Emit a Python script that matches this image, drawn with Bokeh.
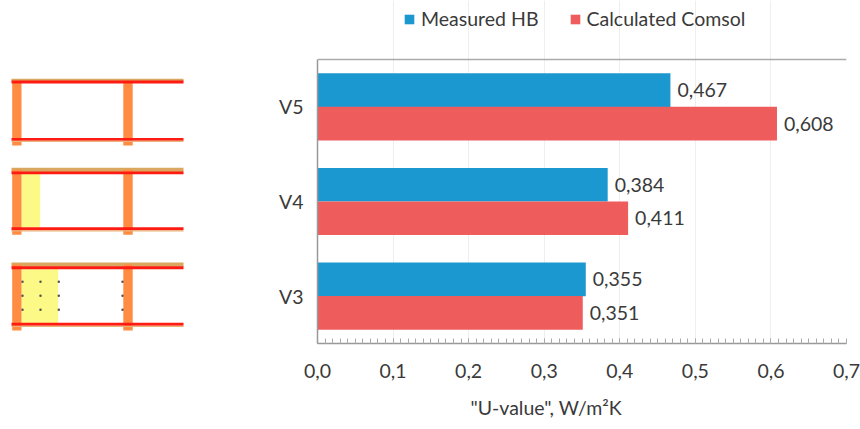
from bokeh.plotting import figure
from bokeh.layouts import row
from bokeh.models import Range1d, Legend, LegendItem, Title, ColumnDataSource, FixedTicker, Span
from bokeh.transform import dodge
from bokeh.core.properties import value
from bokeh.embed import file_html
from bokeh.resources import INLINE

categories = ["V3", "V4", "V5"]
measured_hb = [0.355, 0.384, 0.467]
calculated_comsol = [0.351, 0.411, 0.608]
measured_labels = ["0,355", "0,384", "0,467"]
calculated_labels = ["0,351", "0,411", "0,608"]
tick_values = [0.0, 0.1, 0.2, 0.3, 0.4, 0.5, 0.6, 0.7]
tick_labels = ["0,0", "0,1", "0,2", "0,3", "0,4", "0,5", "0,6", "0,7"]
series_names = ["Measured HB", "Calculated Comsol"]
x_title = '"U-value", W/m²K'

BLUE = "#1B98CF"
RED = "#EE5D5C"
FONT = "Lato"
FS = "19.5px"
TXT = "#3a3a3a"

# wall-section sketches, in page pixels
columns_x = [(11.7, 21), (122.8, 132.2)]
panels = [
    dict(tan=(78.3, 81), red_top=(80, 83), red_bot=(137.5, 140.3), col_end=145, fill=None, dots=False),
    dict(tan=(167.3, 171.7), red_top=(171, 173.7), red_bot=(226.7, 229.7), col_end=234.3, fill=(21, 39.7, 173.3, 226.7), dots=False),
    dict(tan=(262, 266.2), red_top=(265.8, 268.7), red_bot=(322.3, 325.3), col_end=330, fill=(21, 57.7, 268.7, 323), dots=True),
]
dot_x = [22, 40, 58.3, 122]
dot_y = [281.3, 295.3, 309.3]
WALL_END = 183

SK_W, H = 250, 428
PLOT_TOP, PLOT_BOTTOM = 59, 343       # page y of the axis area
CAT_PX = (PLOT_BOTTOM - PLOT_TOP) / len(categories)
BOTTOM = H - PLOT_BOTTOM

sk = figure(width=SK_W, height=H, output_backend="svg", toolbar_location=None,
            x_range=Range1d(0, SK_W), y_range=Range1d(PLOT_BOTTOM, 0),
            min_border_left=0, min_border_right=0, min_border_top=0, min_border_bottom=BOTTOM)
sk.xaxis.visible = False
sk.yaxis.visible = False
sk.grid.visible = False
sk.outline_line_color = None
for pn in panels:
    sk.quad(left=[11], right=[WALL_END], top=[pn["tan"][0]], bottom=[pn["tan"][1]], color="#D9A75F", line_color=None)
    if pn["fill"]:
        l, r, t, b = pn["fill"]
        sk.quad(left=[l], right=[r], top=[t], bottom=[b], color="#FDF986", line_color=None)
    for l, r in columns_x:
        sk.quad(left=[l], right=[r], top=[pn["tan"][0] + 2], bottom=[pn["col_end"]], color="#FF8C42", line_color=None)
    for key in ("red_top", "red_bot"):
        t, b = pn[key]
        sk.quad(left=[11], right=[WALL_END], top=[t], bottom=[b], color="#FF1A12", line_color=None)
    sk.quad(left=[11], right=[WALL_END], top=[pn["red_bot"][1]], bottom=[pn["red_bot"][1] + 1.2], color="#E9B27A", line_color=None)
    if pn["dots"]:
        xs = [x for x in dot_x for _ in dot_y]
        ys = dot_y * len(dot_x)
        sk.scatter(xs, ys, size=2.5, color="#555555", line_color=None)

ypos = [i + 0.5 for i in range(len(categories))]
src = ColumnDataSource(dict(ypos=ypos, hb=measured_hb, cc=calculated_comsol,
                            hl=measured_labels, cl=calculated_labels))
n = len(categories)
p = figure(width=610, height=H, output_backend="svg", toolbar_location=None,
           y_range=Range1d(0, n + PLOT_TOP / CAT_PX),
           x_range=Range1d(tick_values[0], tick_values[-1]),
           min_border_left=67, min_border_right=14, min_border_top=0, min_border_bottom=BOTTOM)

BAR = 0.355
r1 = p.hbar(y=dodge("ypos", 0.177), right="hb", left=0, height=BAR, source=src, color=BLUE, line_color=None)
r2 = p.hbar(y=dodge("ypos", -0.177), right="cc", left=0, height=BAR, source=src, color=RED, line_color=None)
p.text(x="hb", y=dodge("ypos", 0.177), text="hl", source=src, x_offset=7,
       text_baseline="middle", text_font=value(FONT), text_font_size=FS, text_color=TXT)
p.text(x="cc", y=dodge("ypos", -0.177), text="cl", source=src, x_offset=7,
       text_baseline="middle", text_font=value(FONT), text_font_size=FS, text_color=TXT)

xa = p.xaxis[0]
step = tick_values[1] / 10
xa.ticker = FixedTicker(ticks=tick_values, minor_ticks=[i * step for i in range(71)])
xa.major_label_overrides = dict(zip(tick_values, tick_labels))
xa.major_label_text_font = FONT
xa.major_label_text_font_size = FS
xa.major_label_text_color = TXT
xa.major_label_standoff = 20
xa.axis_line_color = "#999999"
xa.axis_line_width = 1.5
xa.major_tick_line_color = "#aaaaaa"
xa.minor_tick_line_color = "#aaaaaa"
xa.major_tick_in = 5
xa.major_tick_out = 0
xa.minor_tick_in = 5
xa.minor_tick_out = 0

ya = p.yaxis[0]
ya.ticker = FixedTicker(ticks=ypos)
ya.major_label_overrides = dict(zip(ypos, categories))
ya.bounds = (0, n)
ya.major_label_text_font = FONT
ya.major_label_text_font_size = FS
ya.major_label_text_color = TXT
ya.major_label_standoff = 8
ya.axis_line_color = "#999999"
ya.axis_line_width = 1.5
ya.major_tick_line_color = None
ya.minor_tick_line_color = None

p.ygrid.visible = False
p.xgrid.grid_line_color = "#eeeeee"
p.xgrid.ticker = xa.ticker
p.xgrid.bounds = (0, n)
p.outline_line_color = None
p.add_layout(Span(location=n, dimension="width", line_color="#aaaaaa", line_width=1.5))

legend = Legend(items=[LegendItem(label=series_names[0], renderers=[r1]),
                       LegendItem(label=series_names[1], renderers=[r2])],
                orientation="horizontal", location=(86, 313), background_fill_alpha=0, border_line_color=None,
                label_text_font=FONT, label_text_font_size=FS, label_text_color=TXT,
                glyph_width=12, glyph_height=12, spacing=30, label_standoff=6, margin=0, padding=0)
p.add_layout(legend, "center")

# blank spacer so the axis title sits lower, as in the reference
p.add_layout(Title(text=" ", standoff=9, text_font=FONT, text_font_size="1px"), "below")
p.add_layout(Title(text=x_title, align="left", offset=153, standoff=2,
                   text_font=FONT, text_font_size=FS, text_font_style="normal", text_color=TXT), "below")

open("out.html", "w").write(file_html(row(sk, p, spacing=0), INLINE))
